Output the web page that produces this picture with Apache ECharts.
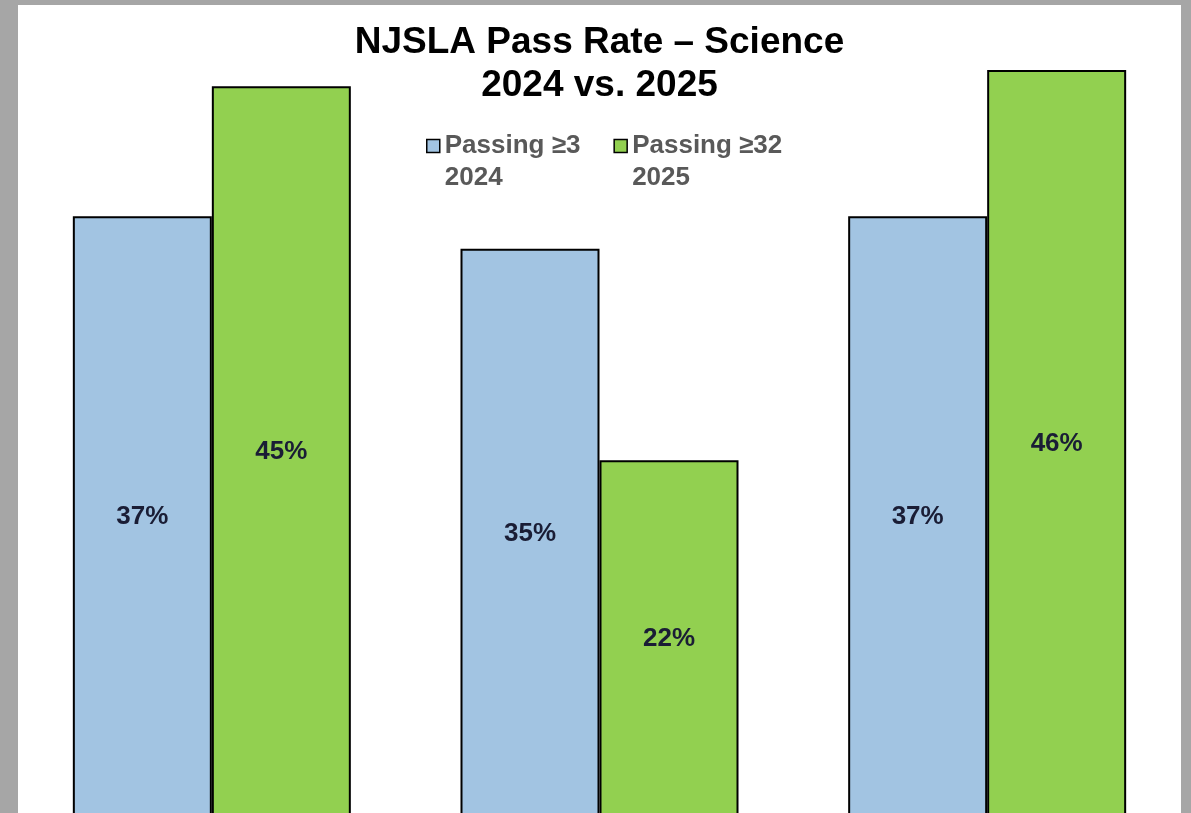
<!DOCTYPE html>
<html>
<head>
<meta charset="utf-8">
<script src="https://cdn.jsdelivr.net/npm/echarts@6/dist/echarts.min.js"></script>
<style>
  html, body { margin: 0; padding: 0; background: #a6a6a6; width: 1191px; height: 813px; overflow: hidden; }
  #chart { position: absolute; left: 18px; top: 5px; width: 1163px; height: 808px; background: #ffffff; }
</style>
</head>
<body>
<div id="chart"></div>
<script>
// grades are cut off in the reference, labels kept hidden
const categories = ["Grade 5", "Grade 8", "Grade 11"];
const seriesNames = ["Passing ≥3\n2024", "Passing ≥32\n2025"];
const pass2024 = [37, 35, 37];
const pass2025 = [45, 22, 46];

const FONT = "Liberation Sans, Arial, sans-serif";
const chart = echarts.init(document.getElementById("chart"));

const labelStyle = {
  show: true,
  position: "inside",
  formatter: "{c}%",
  color: "#1a1d35",
  fontFamily: FONT,
  fontWeight: "bold",
  fontSize: 26
};

chart.setOption({
  animation: false,
  title: {
    text: "NJSLA Pass Rate – Science\n2024 vs. 2025",
    left: "center",
    top: 11,
    textStyle: {
      fontFamily: FONT,
      fontWeight: "bold",
      fontSize: 37,
      lineHeight: 43,
      color: "#000000"
    }
  },
  legend: {
    left: 408,
    top: 93,
    padding: 0,
    itemWidth: 13,
    itemHeight: 13,
    itemGap: 33,
    icon: "rect",
    itemStyle: { borderColor: "#000000", borderWidth: 1.5 },
    // empty first line keeps the icon level with the first text line
    formatter: function (name) {
      return " \n" + name;
    },
    textStyle: {
      fontFamily: FONT,
      fontWeight: "bold",
      fontSize: 26,
      lineHeight: 32,
      color: "#595959"
    },
    data: seriesNames
  },
  // plot runs past the bottom edge, the baseline is cut off like in the source
  grid: { left: 0, right: 0, top: 65, height: 748, outerBoundsMode: "none" },
  xAxis: {
    type: "category",
    data: categories,
    axisLine: { show: false },
    axisTick: { show: false },
    axisLabel: { show: false }
  },
  yAxis: {
    type: "value",
    min: 0,
    max: 46,
    show: false,
    splitLine: { show: false }
  },
  series: [
    {
      name: seriesNames[0],
      type: "bar",
      data: pass2024,
      barWidth: 139,
      barGap: "0%",
      itemStyle: { color: "#a2c4e2", borderColor: "#000000", borderWidth: 2 },
      label: labelStyle
    },
    {
      name: seriesNames[1],
      type: "bar",
      data: pass2025,
      barWidth: 139,
      barGap: "0%",
      itemStyle: { color: "#92d050", borderColor: "#000000", borderWidth: 2 },
      label: labelStyle
    }
  ]
});
</script>
</body>
</html>
